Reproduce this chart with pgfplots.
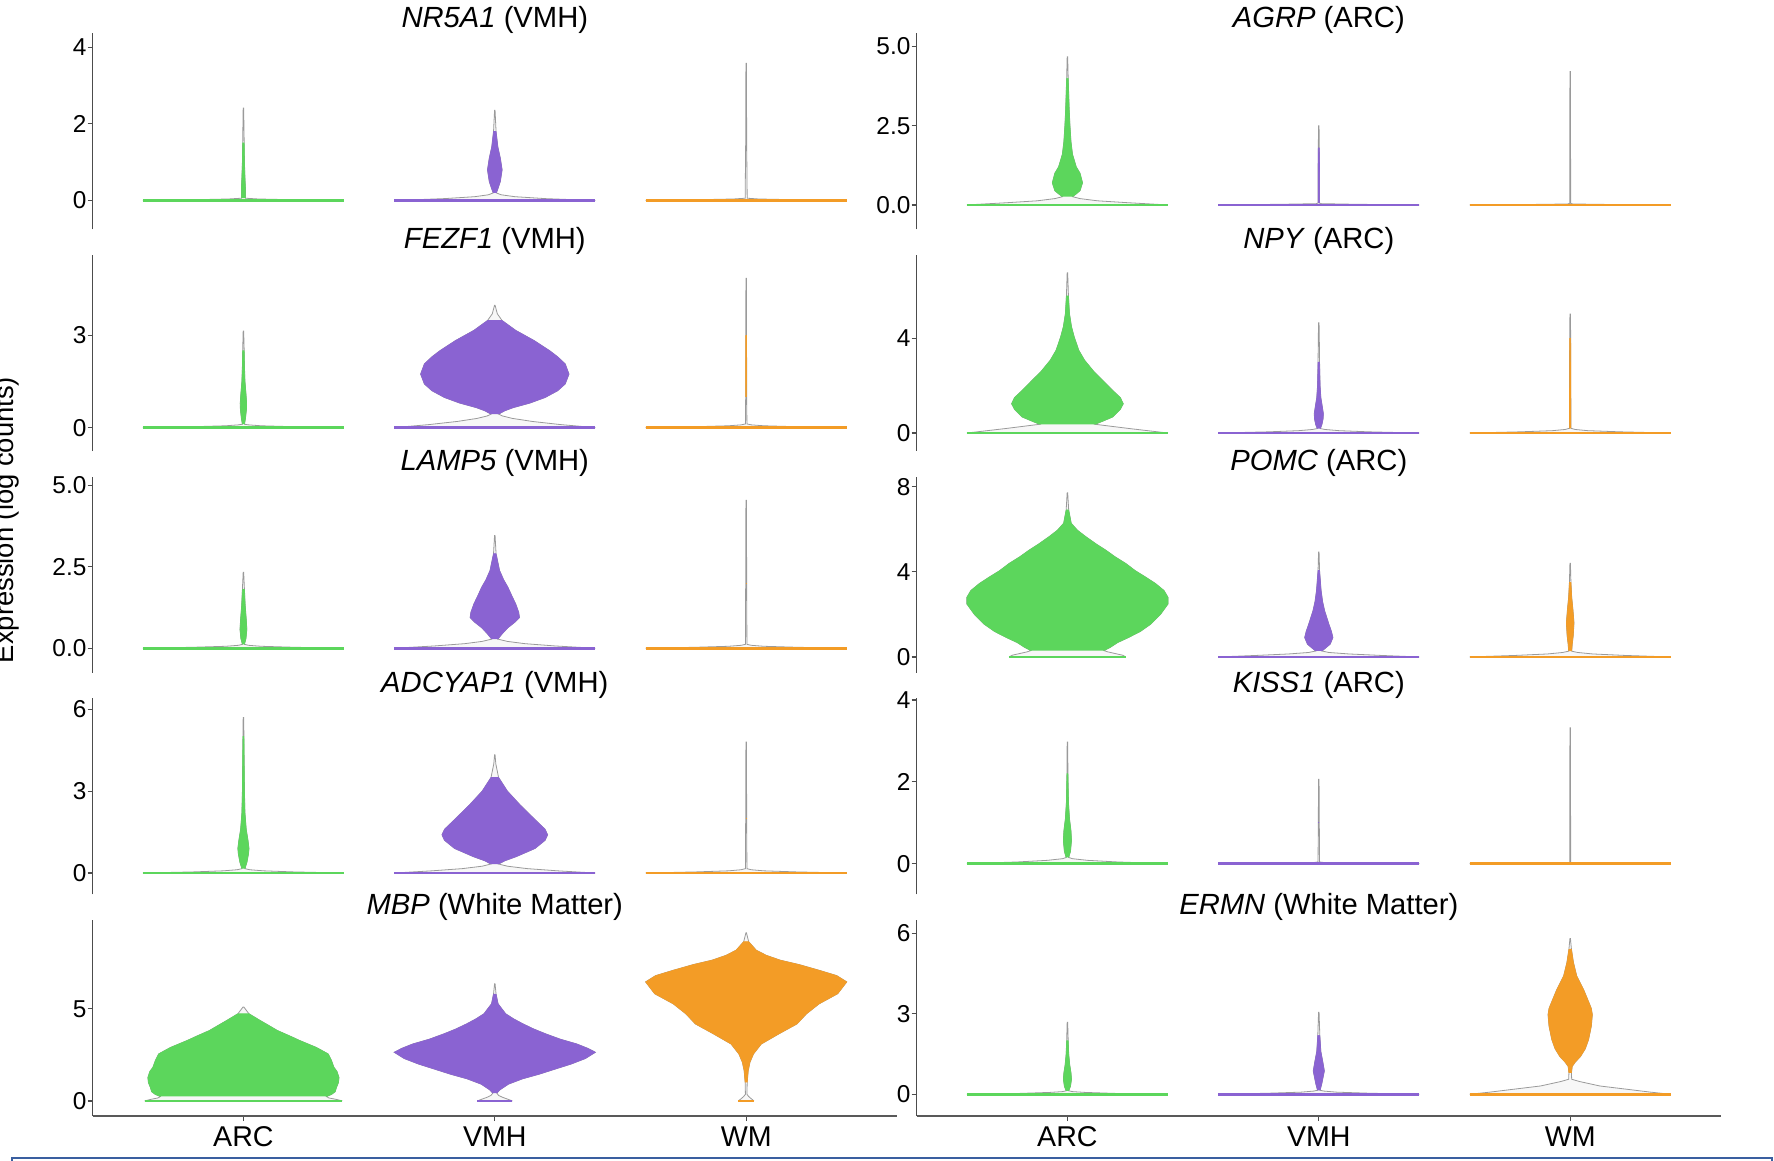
\documentclass[border=0pt]{standalone}
\usepackage{fontspec}
\setmainfont{Liberation Sans}
\usepackage{pgfplots}
\pgfplotsset{compat=1.18}

\definecolor{cARC}{HTML}{5CD65C}
\definecolor{cVMH}{HTML}{8A63D2}
\definecolor{cWM}{HTML}{F39C26}
\definecolor{vline}{HTML}{9A9A9A}
\definecolor{vfill}{HTML}{F7F7F7}
\definecolor{frameblue}{HTML}{3A5FA0}

% #1 options, #2 coordinate list
\newcommand\vpoly[2]{\addplot[#1] coordinates {#2};}
% \violin{centre}{colour}{coloured from y}{coloured to y}{zero half-width}{y/half-width list}
\newcommand\violin[6]{%
  \gdef\vR{}\gdef\vL{}\gdef\bR{}\gdef\bL{}%
  \foreach \yy/\ww in {#6}{%
    \pgfmathsetmacro\xr{#1+\ww}%
    \pgfmathsetmacro\xl{#1-\ww}%
    \xdef\vR{\vR(\xr,\yy)}%
    \xdef\vL{(\xl,\yy)\vL}%
    \pgfmathtruncatemacro\inb{(\yy>=#3)&&(\yy<=#4)}%
    \ifnum\inb=1 \xdef\bR{\bR(\xr,\yy)}\xdef\bL{(\xl,\yy)\bL}\fi
  }%
  \edef\next{\noexpand\vpoly{draw=vline,fill=vfill,line width=0.4pt,mark=none}{\vR\vL}}\next
  \ifx\bR\empty\else
    \edef\next{\noexpand\vpoly{draw=#2,fill=#2,line width=0.3pt,mark=none}{\bR\bL}}\next
  \fi
  \pgfmathsetmacro\zl{#1-#5}\pgfmathsetmacro\zr{#1+#5}%
  \edef\next{\noexpand\vpoly{draw=#2,line width=1.4pt,mark=none}{(\zl,0)(\zr,0)}}\next
}

\pgfplotsset{
  every axis title/.style={at={(0.5,1)}, anchor=base, yshift=3pt, inner sep=0pt,
    font=\fontsize{14.6}{17}\selectfont},
  vpanel/.style={scale only axis, width=402.2pt, height=98pt,
    xmin=0.4, xmax=3.6,
    axis lines*=left, xtick=\empty,
    axis line style={-},
    y axis line style={draw=black!70, line width=0.7pt},
    x axis line style={draw=none},
    tick align=outside, major tick length=2.5pt,
    ytick style={draw=black!70, line width=0.6pt},
    yticklabel style={font=\fontsize{12.2}{14}\selectfont, inner sep=0pt},
    yticklabel shift=0.4pt},
  bottompanel/.style={vpanel, xtick={1,2,3},
    xticklabels={ARC,VMH,WM},
    xticklabel style={font=\fontsize{14.3}{16}\selectfont, inner sep=0pt},
    xticklabel shift=2.5pt,
    xtick style={draw=black!70, line width=0.6pt},
    x axis line style={draw=black!65, line width=1.2pt}}
}

\begin{document}
\begin{tikzpicture}
\useasboundingbox (0,0) rectangle (887pt,-580.5pt);

% ---------------- row 1 ----------------
\begin{axis}[vpanel, at={(46.3pt,-16.65pt)}, anchor=north west,
  ymin=-0.75, ymax=4.36, ytick={0,2,4}, yticklabels={0,2,4},
  title={\textit{NR5A1} (VMH)}]
\violin{1}{cARC}{0.06}{1.55}{0.40}{0/0.40, 0.02/0.2, 0.04/0.06, 0.06/0.008, 0.3/0.008, 0.6/0.006, 1.0/0.004, 1.5/0.003, 2.41/0.001}
\violin{2}{cVMH}{0.2}{2.2}{0.40}{0/0.40, 0.05/0.2, 0.1/0.08, 0.15/0.025, 0.2/0.006, 0.3/0.012, 0.5/0.022, 0.8/0.029, 1.1/0.022, 1.4/0.012, 1.8/0.005, 2.35/0.001}
\violin{3}{cWM}{9}{9}{0.40}{0/0.40, 0.02/0.2, 0.04/0.05, 0.06/0.004, 1.5/0.002, 3.58/0.001}
\end{axis}

\begin{axis}[vpanel, at={(458.3pt,-16.65pt)}, anchor=north west,
  ymin=-0.77, ymax=5.42, ytick={0,2.5,5}, yticklabels={0.0,2.5,5.0},
  title={\textit{AGRP} (ARC)}]
\violin{1}{cARC}{0.26}{4.0}{0.40}{0/0.40, 0.07/0.24, 0.13/0.12, 0.2/0.05, 0.26/0.02, 0.35/0.035, 0.45/0.05, 0.7/0.06, 1.0/0.05, 1.2/0.035, 1.6/0.02, 2.0/0.014, 2.5/0.01, 3.0/0.007, 3.5/0.005, 4.0/0.003, 4.68/0.001}
\violin{2}{cVMH}{0.05}{1.8}{0.40}{0/0.40, 0.02/0.15, 0.04/0.01, 0.06/0.003, 1.0/0.003, 1.8/0.002, 2.5/0.001}
\violin{3}{cWM}{9}{9}{0.40}{0/0.40, 0.015/0.15, 0.03/0.01, 0.05/0.002, 4.21/0.001}
\end{axis}

% ---------------- row 2 ----------------
\begin{axis}[vpanel, at={(46.3pt,-127.5pt)}, anchor=north west,
  ymin=-0.76, ymax=5.61, ytick={0,3}, yticklabels={0,3},
  title={\textit{FEZF1} (VMH)}]
\violin{1}{cARC}{0.11}{2.5}{0.40}{0/0.40, 0.03/0.2, 0.06/0.07, 0.09/0.02, 0.11/0.004, 0.3/0.008, 0.6/0.012, 0.8/0.0125, 1.1/0.01, 1.5/0.006, 2.0/0.004, 2.5/0.003, 3.14/0.001}
\violin{2}{cVMH}{0.44}{3.6}{0.40}{0/0.40, 0.1/0.26, 0.2/0.15, 0.3/0.07, 0.38/0.03, 0.44/0.015, 0.55/0.04, 0.65/0.073, 0.8/0.14, 0.98/0.2, 1.2/0.25, 1.42/0.28, 1.74/0.295, 2.07/0.28, 2.3/0.25, 2.5/0.218, 2.83/0.156, 3.16/0.083, 3.48/0.029, 3.7/0.01, 3.98/0.001}
\violin{3}{cWM}{0.5}{4.5}{0.40}{0/0.40, 0.03/0.2, 0.06/0.07, 0.09/0.02, 0.12/0.003, 1.0/0.002, 3.0/0.0015, 4.85/0.001}
\end{axis}

\begin{axis}[vpanel, at={(458.3pt,-127.5pt)}, anchor=north west,
  ymin=-0.76, ymax=7.53, ytick={0,4}, yticklabels={0,4},
  title={\textit{NPY} (ARC)}]
\violin{1}{cARC}{0.37}{6.2}{0.40}{0/0.40, 0.185/0.25, 0.37/0.11, 0.5/0.14, 0.68/0.18, 1.0/0.21, 1.24/0.222, 1.5/0.21, 1.8/0.18, 2.23/0.14, 2.6/0.105, 3.08/0.068, 3.5/0.045, 4.06/0.027, 4.5/0.016, 5.05/0.008, 5.8/0.004, 6.78/0.001}
\violin{2}{cVMH}{0.19}{3.6}{0.40}{0/0.40, 0.05/0.2, 0.1/0.08, 0.15/0.025, 0.19/0.006, 0.35/0.012, 0.6/0.017, 0.82/0.018, 1.1/0.014, 1.5/0.008, 2.0/0.005, 3.0/0.003, 4.0/0.002, 4.66/0.001}
\violin{3}{cWM}{0.2}{4.8}{0.40}{0/0.40, 0.05/0.2, 0.1/0.07, 0.15/0.02, 0.2/0.003, 2.0/0.0025, 4.0/0.002, 5.03/0.001}
\end{axis}

% ---------------- row 3 ----------------
\begin{axis}[vpanel, at={(46.3pt,-238.35pt)}, anchor=north west,
  ymin=-0.75, ymax=5.26, ytick={0,2.5,5}, yticklabels={0.0,2.5,5.0},
  title={\textit{LAMP5} (VMH)}]
\violin{1}{cARC}{0.12}{2.2}{0.40}{0/0.40, 0.03/0.2, 0.06/0.07, 0.09/0.02, 0.12/0.004, 0.3/0.01, 0.58/0.0135, 0.9/0.011, 1.3/0.007, 1.8/0.004, 2.33/0.001}
\violin{2}{cVMH}{0.28}{3.1}{0.40}{0/0.40, 0.07/0.24, 0.14/0.12, 0.21/0.05, 0.28/0.012, 0.45/0.03, 0.63/0.052, 0.8/0.08, 0.94/0.098, 1.1/0.095, 1.36/0.083, 1.6/0.068, 1.87/0.052, 2.1/0.035, 2.38/0.019, 2.9/0.005, 3.46/0.001}
\violin{3}{cWM}{0.5}{4.0}{0.40}{0/0.40, 0.03/0.2, 0.06/0.07, 0.09/0.02, 0.12/0.003, 2.0/0.002, 4.54/0.001}
\end{axis}

\begin{axis}[vpanel, at={(458.3pt,-238.35pt)}, anchor=north west,
  ymin=-0.74, ymax=8.47, ytick={0,4,8}, yticklabels={0,4,8},
  title={\textit{POMC} (ARC)}]
\violin{1}{cARC}{0.3}{7.2}{0.232}{0/0.232, 0.08/0.22, 0.16/0.19, 0.24/0.16, 0.3/0.145, 0.45/0.17, 0.68/0.2, 0.91/0.242, 1.2/0.29, 1.54/0.331, 2.0/0.37, 2.49/0.40, 2.8/0.40, 3.12/0.384, 3.45/0.35, 3.75/0.311, 4.05/0.27, 4.39/0.232, 4.7/0.19, 5.02/0.152, 5.3/0.115, 5.65/0.073, 5.95/0.04, 6.28/0.015, 6.91/0.005, 7.72/0.001}
\violin{2}{cVMH}{0.28}{4.5}{0.40}{0/0.40, 0.07/0.25, 0.14/0.12, 0.21/0.04, 0.28/0.012, 0.4/0.025, 0.6/0.045, 0.91/0.056, 1.2/0.05, 1.54/0.04, 2.17/0.023, 2.6/0.015, 3.12/0.009, 4.06/0.003, 4.93/0.001}
\violin{3}{cWM}{0.27}{4.0}{0.40}{0/0.40, 0.07/0.22, 0.14/0.09, 0.21/0.03, 0.27/0.006, 0.6/0.008, 1.0/0.012, 1.6/0.015, 2.2/0.011, 2.8/0.006, 3.5/0.003, 4.4/0.001}
\end{axis}

% ---------------- row 4 ----------------
\begin{axis}[vpanel, at={(46.3pt,-349.15pt)}, anchor=north west,
  ymin=-0.78, ymax=6.4, ytick={0,3,6}, yticklabels={0,3,6},
  title={\textit{ADCYAP1} (VMH)}]
\violin{1}{cARC}{0.16}{5.0}{0.40}{0/0.40, 0.04/0.2, 0.08/0.08, 0.12/0.025, 0.16/0.006, 0.4/0.014, 0.7/0.02, 0.9/0.022, 1.2/0.018, 1.6/0.011, 2.2/0.006, 3.0/0.004, 4.0/0.003, 5.0/0.002, 5.7/0.001}
\violin{2}{cVMH}{0.33}{3.8}{0.40}{0/0.40, 0.08/0.25, 0.16/0.13, 0.25/0.05, 0.33/0.015, 0.45/0.04, 0.6/0.085, 0.9/0.16, 1.2/0.2, 1.4/0.21, 1.6/0.2, 2.0/0.155, 2.5/0.1, 3.0/0.05, 3.5/0.015, 4.0/0.004, 4.33/0.001}
\violin{3}{cWM}{0.5}{4.5}{0.40}{0/0.40, 0.04/0.2, 0.08/0.07, 0.12/0.02, 0.16/0.003, 2.0/0.002, 4.8/0.001}
\end{axis}

\begin{axis}[vpanel, at={(458.3pt,-349.15pt)}, anchor=north west,
  ymin=-0.75, ymax=4.04, ytick={0,2,4}, yticklabels={0,2,4},
  title={\textit{KISS1} (ARC)}]
\violin{1}{cARC}{0.15}{2.8}{0.40}{0/0.40, 0.04/0.2, 0.08/0.08, 0.12/0.02, 0.15/0.005, 0.3/0.012, 0.56/0.016, 0.8/0.014, 1.1/0.008, 1.5/0.004, 2.2/0.002, 2.97/0.001}
\violin{2}{cVMH}{0.4}{1.9}{0.40}{0/0.40, 0.01/0.15, 0.02/0.03, 0.04/0.003, 1.0/0.002, 2.06/0.001}
\violin{3}{cWM}{9}{9}{0.40}{0/0.40, 0.01/0.15, 0.02/0.02, 0.03/0.002, 3.32/0.001}
\end{axis}

% ---------------- row 5 ----------------
\begin{axis}[bottompanel, at={(46.3pt,-460pt)}, anchor=north west,
  ymin=-0.82, ymax=9.82, ytick={0,5}, yticklabels={0,5},
  title={\textit{MBP} (White Matter)}]
\violin{1}{cARC}{0.24}{5.0}{0.393}{0/0.393, 0.08/0.37, 0.16/0.34, 0.24/0.33, 0.35/0.35, 0.5/0.365, 0.73/0.37, 1.0/0.378, 1.27/0.38, 1.6/0.372, 1.82/0.36, 2.2/0.35, 2.55/0.337, 2.9/0.29, 3.27/0.225, 3.55/0.18, 3.82/0.135, 4.1/0.1, 4.36/0.067, 4.73/0.022, 5.09/0.002}
\violin{2}{cVMH}{0.42}{6.0}{0.07}{0/0.07, 0.1/0.05, 0.2/0.03, 0.3/0.015, 0.42/0.008, 0.6/0.02, 0.91/0.054, 1.2/0.11, 1.45/0.176, 1.75/0.245, 2.0/0.303, 2.3/0.36, 2.64/0.40, 2.85/0.37, 3.09/0.326, 3.35/0.26, 3.64/0.202, 3.9/0.155, 4.18/0.112, 4.45/0.075, 4.73/0.043, 5.27/0.013, 5.8/0.005, 6.36/0.001}
\violin{3}{cWM}{1.0}{8.9}{0.031}{0/0.031, 0.12/0.02, 0.24/0.01, 0.36/0.003, 1.0/0.004, 1.64/0.008, 2.1/0.015, 2.55/0.029, 3.09/0.06, 3.64/0.13, 4.18/0.202, 4.73/0.24, 5.27/0.29, 5.82/0.364, 6.46/0.40, 6.8/0.36, 7.09/0.29, 7.4/0.21, 7.64/0.135, 7.9/0.08, 8.18/0.04, 8.64/0.01, 9.13/0.001}
\end{axis}

\begin{axis}[bottompanel, at={(458.3pt,-460pt)}, anchor=north west,
  ymin=-0.81, ymax=6.5, ytick={0,3,6}, yticklabels={0,3,6},
  title={\textit{ERMN} (White Matter)}]
\violin{1}{cARC}{0.13}{2.6}{0.40}{0/0.40, 0.03/0.2, 0.07/0.07, 0.1/0.02, 0.13/0.005, 0.3/0.012, 0.56/0.016, 0.8/0.014, 1.1/0.009, 1.5/0.005, 2.0/0.003, 2.69/0.001}
\violin{2}{cVMH}{0.15}{2.9}{0.40}{0/0.40, 0.04/0.2, 0.08/0.07, 0.12/0.02, 0.15/0.005, 0.4/0.012, 0.87/0.022, 1.2/0.016, 1.6/0.008, 2.2/0.004, 3.06/0.001}
\violin{3}{cWM}{0.8}{5.6}{0.40}{0/0.40, 0.08/0.32, 0.16/0.25, 0.31/0.118, 0.475/0.038, 0.56/0.006, 0.8/0.005, 1.04/0.008, 1.2/0.02, 1.41/0.041, 1.7/0.06, 2.04/0.073, 2.54/0.084, 2.97/0.088, 3.2/0.084, 3.41/0.075, 3.91/0.053, 4.41/0.026, 4.91/0.013, 5.41/0.005, 5.81/0.001}
\end{axis}

% y-axis label (partly cut by the page edge, as in the figure)
\node[rotate=90, anchor=base, font=\fontsize{13.7}{16}\selectfont] at (6.65pt,-260pt) {Expression (log counts)};

% frame line at the bottom edge
\draw[frameblue, line width=1.3pt] (6pt,-600pt) -- (6pt,-579pt) -- (886pt,-579pt) -- (886pt,-600pt);
\end{tikzpicture}
\end{document}
